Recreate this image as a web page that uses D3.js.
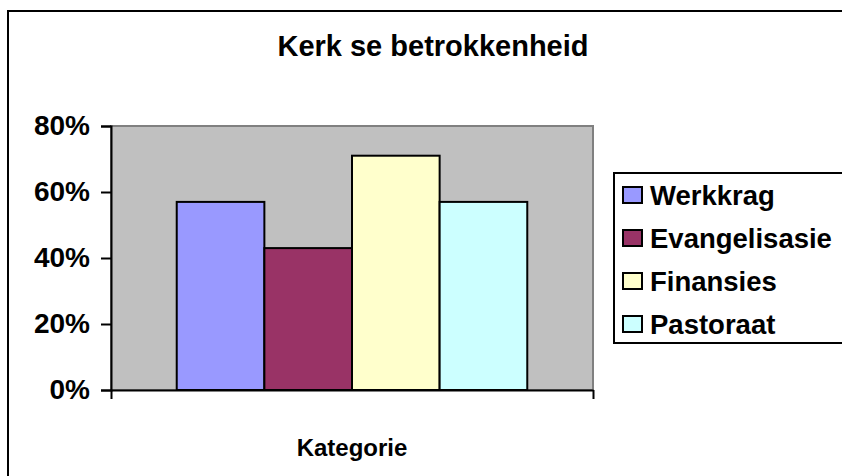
<!DOCTYPE html>
<html>
<head>
<meta charset="utf-8">
<script src="https://cdn.jsdelivr.net/npm/d3@7"></script>
<style>
  html, body { margin: 0; padding: 0; background: #fff; }
  svg { display: block; }
  text { font-family: "Liberation Sans", Arial, sans-serif; font-weight: bold; fill: #000; }
</style>
</head>
<body>
<svg id="chart" width="842" height="476"></svg>
<script>
const title = "Kerk se betrokkenheid";
const categoryLabel = "Kategorie";
const series = ["Werkkrag", "Evangelisasie", "Finansies", "Pastoraat"];
const values = [0.57, 0.43, 0.71, 0.57];
const colors = ["#9999FF", "#993366", "#FFFFCC", "#CCFFFF"];
const yTicks = [0, 0.2, 0.4, 0.6, 0.8];

const svg = d3.select("#chart");
const plot = { left: 111, right: 593, top: 126, bottom: 390 };

// outer chart frame (extends beyond the visible area on right/bottom)
svg.append("rect")
  .attr("x", 8).attr("y", 11).attr("width", 860).attr("height", 500)
  .attr("fill", "#fff").attr("stroke", "#000").attr("stroke-width", 2);

// title
svg.append("text")
  .attr("x", 433).attr("y", 56)
  .attr("text-anchor", "middle")
  .style("font-size", "29px")
  .text(title);

const y = d3.scaleLinear().domain([0, 0.8]).range([plot.bottom, plot.top]);
const x = d3.scaleBand().domain(series).range([plot.left, plot.right])
  .paddingInner(0).paddingOuter(0.75);

// plot area
svg.append("rect")
  .attr("x", plot.left).attr("y", plot.top)
  .attr("width", plot.right - plot.left).attr("height", plot.bottom - plot.top)
  .attr("fill", "#C0C0C0").attr("stroke", "#808080").attr("stroke-width", 2);

// bars
svg.append("g").selectAll("rect")
  .data(series.map((s, i) => ({ s, v: values[i], c: colors[i] })))
  .join("rect")
  .attr("x", d => x(d.s))
  .attr("y", d => y(d.v))
  .attr("width", x.bandwidth())
  .attr("height", d => y(0) - y(d.v))
  .attr("fill", d => d.c)
  .attr("stroke", "#000").attr("stroke-width", 2);

// y axis
const yAxis = d3.axisLeft(y).tickValues(yTicks).tickFormat(d3.format(".0%"))
  .tickSize(10).tickPadding(11);
const gy = svg.append("g").attr("transform", `translate(${plot.left},0)`).call(yAxis);
gy.select(".domain").attr("stroke", "#000").attr("stroke-width", 2);
gy.selectAll(".tick line").attr("stroke", "#000").attr("stroke-width", 2);
gy.selectAll(".tick text").style("font-size", "28px").style("font-family", "'Liberation Sans', Arial, sans-serif").style("font-weight", "bold").attr("fill", "#000");

// x axis (single category, ticks at the edges)
const xEdge = d3.scaleLinear().domain([0, 1]).range([plot.left, plot.right]);
const xAxis = d3.axisBottom(xEdge).tickValues([0, 1]).tickFormat("").tickSize(9).tickSizeOuter(0);
const gx = svg.append("g").attr("transform", `translate(0,${plot.bottom})`).call(xAxis);
gx.select(".domain").attr("stroke", "#000").attr("stroke-width", 2);
gx.selectAll(".tick line").attr("stroke", "#000").attr("stroke-width", 2);

// category label
svg.append("text")
  .attr("x", (plot.left + plot.right) / 2).attr("y", 456)
  .attr("text-anchor", "middle")
  .style("font-size", "24px")
  .text(categoryLabel);

// legend
const legend = svg.append("g");
legend.append("rect")
  .attr("x", 614).attr("y", 173).attr("width", 260).attr("height", 170)
  .attr("fill", "#fff").attr("stroke", "#000").attr("stroke-width", 2);
const ly = d3.scalePoint().domain(series).range([195, 324]);
const items = legend.selectAll("g.item").data(series.map((s, i) => ({ s, c: colors[i] })))
  .join("g").attr("class", "item")
  .attr("transform", d => `translate(0,${ly(d.s)})`);
items.append("rect")
  .attr("x", 623).attr("y", -8).attr("width", 19).attr("height", 16)
  .attr("fill", d => d.c).attr("stroke", "#000").attr("stroke-width", 2);
items.append("text")
  .attr("x", 650).attr("y", 0).attr("dy", "0.36em")
  .style("font-size", "27.5px")
  .text(d => d.s);
</script>
</body>
</html>
